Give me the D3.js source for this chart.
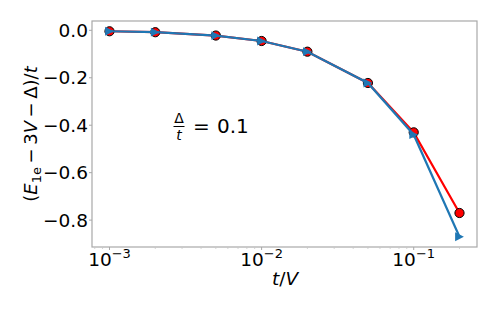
<!DOCTYPE html>
<html><head><meta charset="utf-8">
<script src="https://cdn.jsdelivr.net/npm/d3@7"></script>
<style>body{margin:0;background:#fff}svg{display:block}text{font-family:"DejaVu Sans",sans-serif;fill:#000}</style>
</head><body>
<svg id="c" width="498" height="312"></svg>
<script>
const tValues = [0.001, 0.002, 0.005, 0.01, 0.02, 0.05, 0.1, 0.2];
const redSeries = [-0.004, -0.008, -0.022, -0.045, -0.09, -0.222, -0.43, -0.77];
const blueSeries = [-0.004, -0.008, -0.022, -0.045, -0.09, -0.222, -0.44, -0.87];
const yTicks = [0.0, -0.2, -0.4, -0.6, -0.8];
const yTickLabels = ["0.0", "\u22120.2", "\u22120.4", "\u22120.6", "\u22120.8"];
const xTicks = [0.001, 0.01, 0.1];
const xTickExps = ["\u22123", "\u22122", "\u22121"];

const L = 92, R = 477, T = 21, B = 247;
const svg = d3.select("#c");
const lx = Math.log10(0.001), hx = Math.log10(0.2), mx = (hx - lx) * 0.05;
const x = d3.scaleLog().domain([Math.pow(10, lx - mx), Math.pow(10, hx + mx)]).range([L, R]);
const ymin = -0.87, ymax = -0.004, my = (ymax - ymin) * 0.05;
const y = d3.scaleLinear().domain([ymin - my, ymax + my]).range([B, T]);

// spines
svg.append("rect").attr("x", L).attr("y", T).attr("width", R - L).attr("height", B - T)
  .attr("fill", "none").attr("stroke", "#a8a8a8").attr("stroke-width", 1.2);

// minor x ticks
const minors = [];
[0.0001, 0.001, 0.01, 0.1].forEach(d => { for (let k = 2; k <= 9; k++) { const v = d * k; if (v >= x.domain()[0] && v <= x.domain()[1]) minors.push(v); } });
svg.append("g").selectAll("line").data(minors).join("line")
  .attr("x1", d => x(d)).attr("x2", d => x(d)).attr("y1", B).attr("y2", B + 2)
  .attr("stroke", "#c8c8c8").attr("stroke-width", 0.8);
// major x ticks
svg.append("g").selectAll("line").data(xTicks).join("line")
  .attr("x1", d => x(d)).attr("x2", d => x(d)).attr("y1", B).attr("y2", B + 3)
  .attr("stroke", "#a8a8a8").attr("stroke-width", 1);
const xl = svg.append("g").selectAll("text").data(xTicks).join("text")
  .attr("x", d => x(d)).attr("y", 266).attr("text-anchor", "middle").style("font-size", "18.5px");
xl.append("tspan").text("10");
xl.append("tspan").attr("dy", -8).style("font-size", "13px").text((d, i) => xTickExps[i]);

// y ticks
svg.append("g").selectAll("line").data(yTicks).join("line")
  .attr("x1", L - 3).attr("x2", L).attr("y1", d => y(d)).attr("y2", d => y(d))
  .attr("stroke", "#a8a8a8").attr("stroke-width", 1);
svg.append("g").selectAll("text").data(yTicks).join("text")
  .attr("x", L - 4).attr("y", d => y(d)).attr("dy", "0.36em").attr("text-anchor", "end")
  .style("font-size", "18.5px").text((d, i) => yTickLabels[i]);

// lines
const lineGen = vals => d3.line().x((d, i) => x(tValues[i])).y(d => y(d))(vals);
svg.append("path").attr("d", lineGen(redSeries)).attr("fill", "none").attr("stroke", "#ff0000").attr("stroke-width", 2.2);
svg.append("g").selectAll("circle").data(redSeries).join("circle")
  .attr("cx", (d, i) => x(tValues[i])).attr("cy", d => y(d)).attr("r", 4.6)
  .attr("fill", "#ff0000").attr("stroke", "#000").attr("stroke-width", 1);
svg.append("path").attr("d", lineGen(blueSeries)).attr("fill", "none").attr("stroke", "#1f77b4").attr("stroke-width", 2.2);
const s = 4.4;
svg.append("g").selectAll("path").data(blueSeries).join("path")
  .attr("transform", (d, i) => `translate(${x(tValues[i])},${y(d)})`)
  .attr("d", `M${s},0L${-s},${s}L${-s},${-s}Z`).attr("fill", "#1f77b4");

// annotation
const ax = 179, ay = 126;
svg.append("text").attr("x", ax).attr("y", ay - 3).attr("text-anchor", "middle").style("font-size", "14px").text("\u0394");
svg.append("line").attr("x1", ax - 5.5).attr("x2", ax + 5.5).attr("y1", ay + 0.5).attr("y2", ay + 0.5).attr("stroke", "#000").attr("stroke-width", 1);
svg.append("text").attr("x", ax).attr("y", ay + 14).attr("text-anchor", "middle").style("font-size", "14px").style("font-style", "italic").text("t");
svg.append("text").attr("x", 193).attr("y", ay + 7).style("font-size", "20px").text("=");
svg.append("text").attr("x", 217).attr("y", ay + 7).style("font-size", "20px").text("0.1");

// axis labels
const xlab = svg.append("text").attr("x", 285).attr("y", 285).attr("text-anchor", "middle").style("font-size", "18.5px");
xlab.append("tspan").style("font-style", "italic").text("t");
xlab.append("tspan").text("/");
xlab.append("tspan").style("font-style", "italic").text("V");

const ylab = svg.append("text").attr("transform", `translate(37,${(T + B) / 2}) rotate(-90)`)
  .attr("text-anchor", "middle").style("font-size", "18px");
ylab.append("tspan").text("(");
ylab.append("tspan").style("font-style", "italic").text("E");
ylab.append("tspan").attr("dy", 4).style("font-size", "13px").text("1e");
ylab.append("tspan").attr("dy", -4).text("\u2009\u2212\u20093");
ylab.append("tspan").style("font-style", "italic").text("V");
ylab.append("tspan").text("\u2009\u2212\u2009\u0394)/");
ylab.append("tspan").style("font-style", "italic").text("t");
</script>
</body></html>
